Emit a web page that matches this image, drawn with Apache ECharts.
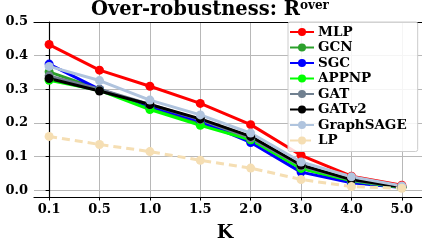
<!DOCTYPE html>
<html><head><meta charset="utf-8">
<script src="https://cdn.jsdelivr.net/npm/echarts@6/dist/echarts.min.js"></script>
<style>html,body{margin:0;padding:0;background:#fff}#c{width:422px;height:248px}</style>
</head><body><div id="c"></div>
<script>
const kLabels = ['0.1','0.5','1.0','1.5','2.0','3.0','4.0','5.0'];
const yTicks = [0, 0.1, 0.2, 0.3, 0.4, 0.5];
const MLP       = [0.433, 0.357, 0.309, 0.258, 0.195, 0.104, 0.042, 0.015];
const GCN       = [0.352, 0.300, 0.245, 0.200, 0.150, 0.065, 0.025, 0.010];
const SGC       = [0.375, 0.300, 0.250, 0.205, 0.142, 0.054, 0.022, 0.008];
const APPNP     = [0.327, 0.297, 0.240, 0.193, 0.150, 0.065, 0.028, 0.008];
const GAT       = [0.340, 0.300, 0.255, 0.210, 0.155, 0.072, 0.030, 0.010];
const GATv2     = [0.332, 0.295, 0.255, 0.212, 0.160, 0.075, 0.032, 0.010];
const GraphSAGE = [0.368, 0.326, 0.268, 0.224, 0.170, 0.084, 0.040, 0.013];
const LP        = [0.160, 0.136, 0.115, 0.089, 0.066, 0.032, 0.011, 0.006];

const seriesDefs = [
  ['MLP', MLP, '#ff0000', 'solid'],
  ['GCN', GCN, '#2ca02c', 'solid'],
  ['SGC', SGC, '#0000ff', 'solid'],
  ['APPNP', APPNP, '#00ff00', 'solid'],
  ['GAT', GAT, '#708090', 'solid'],
  ['GATv2', GATv2, '#000000', 'solid'],
  ['GraphSAGE', GraphSAGE, '#b0c4de', 'solid'],
  ['LP', LP, '#f5deb3', 'dashed']
];
const font = 'DejaVu Serif';
const chart = echarts.init(document.getElementById('c'), null, {renderer: 'canvas'});
const idx = kLabels.map((_, i) => i);
const xMin = -0.3, xMax = 7.4;
chart.setOption({
  animation: false,
  backgroundColor: '#fff',
  title: {
    text: 'Over-robustness: R{s|over}',
    left: 91, top: 0, padding: 0,
    textStyle: {fontFamily: font, fontWeight: 'bold', fontSize: 19.5, color: '#000', lineHeight: 20,
      rich: {s: {fontFamily: font, fontWeight: 'bold', fontSize: 12, verticalAlign: 'top', lineHeight: 12, color: '#000', padding: [0,0,0,0]}}}
  },
  grid: {left: 34, right: 0, top: 22, bottom: 43},
  legend: {
    orient: 'vertical', left: 288, top: 22,
    itemWidth: 24, itemHeight: 10, itemGap: 1.5,
    padding: [3, 11, 4, 1],
    backgroundColor: 'rgba(255,255,255,0.85)', borderColor: '#cccccc', borderWidth: 1, borderRadius: 2,
    textStyle: {fontFamily: font, fontWeight: 'bold', fontSize: 13.5, color: '#000', padding: [0,0,0,-1]},
    data: seriesDefs.map(d => d[0])
  },
  xAxis: [{
    type: 'value', min: xMin, max: xMax,
    name: 'K', nameLocation: 'middle', nameGap: 27,
    nameTextStyle: {fontFamily: font, fontWeight: 'bold', fontSize: 19, color: '#000', padding: [0, 0, 0, -6]},
    axisLine: {onZero: false, lineStyle: {color: '#000', width: 1.2}},
    axisTick: {show: true, length: 3.5, customValues: idx, lineStyle: {color: '#000'}},
    axisLabel: {customValues: idx, formatter: v => kLabels[Math.round(v)], margin: 6,
      fontFamily: font, fontWeight: 'bold', fontSize: 13, color: '#000'},
    splitLine: {show: true, customValues: idx, lineStyle: {color: '#b8b8b8', width: 1}}
  }, {
    type: 'value', position: 'top', min: xMin, max: xMax,
    axisLine: {show: true, onZero: false, lineStyle: {color: '#000', width: 1.2}},
    axisTick: {show: false}, axisLabel: {show: false}, splitLine: {show: false}
  }],
  yAxis: {
    type: 'value', min: -0.02, max: 0.5,
    axisLine: {show: true, lineStyle: {color: '#000', width: 1.2}},
    axisTick: {show: true, length: 3.5, customValues: yTicks, lineStyle: {color: '#000'}},
    axisLabel: {customValues: yTicks, formatter: v => v.toFixed(1), margin: 6,
      fontFamily: font, fontWeight: 'bold', fontSize: 13, color: '#000'},
    splitLine: {show: true, customValues: yTicks, lineStyle: {color: '#b8b8b8', width: 1}}
  },
  series: seriesDefs.map(([name, vals, color, type]) => ({
    name, type: 'line', data: vals.map((v, i) => [i, v]),
    symbol: 'circle', symbolSize: 9,
    lineStyle: {color, width: 3, type: type === 'dashed' ? [8, 5] : 'solid'},
    itemStyle: {color}
  }))
});
</script>
</body></html>
